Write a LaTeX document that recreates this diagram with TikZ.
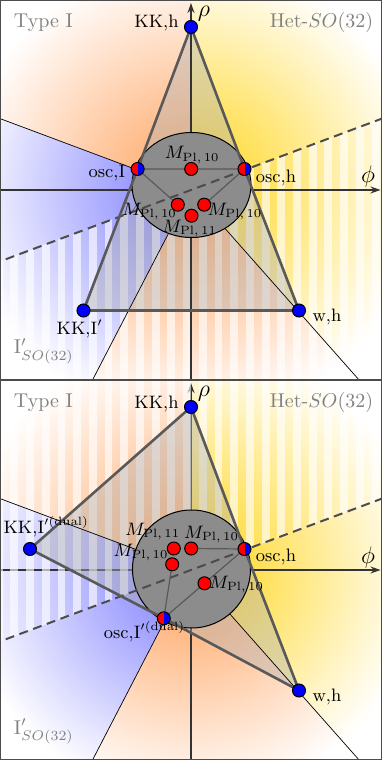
\documentclass[tikz,border=0pt]{standalone}
\usepackage{tikz}
\usetikzlibrary{arrows.meta, calc}
\usepackage{amsmath}

\definecolor{typeIcol}{RGB}{255,160,90}
\definecolor{hetcol}{RGB}{255,212,20}
\definecolor{Ipcol}{RGB}{120,120,255}

\begin{document}
\begin{tikzpicture}[>={Stealth[length=5pt, width=3.5pt]}, x=0.5pt, y=0.5pt,
  dot/.style={circle, draw=black, line width=0.5pt, minimum size=6.5pt, inner sep=0pt},
  kkdot/.style={dot, fill=blue},
  pldot/.style={dot, fill=red},
  oscdot/.style={dot, fill=blue, path picture={\fill[red] (path picture bounding box.south west) rectangle (path picture bounding box.north);}},
  lbl/.style={font=\small, inner sep=0pt},
  region/.style={text=black!50, inner sep=0pt},
  axlbl/.style={font=\large, inner sep=0pt},
  axis/.style={->, line width=0.7pt, black!80},
  wall/.style={line width=0.35pt, black},
  edge/.style={line width=1.3pt, black!65, line join=round},
  inner/.style={line width=0.6pt, black!65},
  selfdual/.style={line width=1pt, black!70, dash pattern=on 4.5pt off 2.8pt},
  blob/.style={fill=black!45, draw=black, line width=0.5pt},
  hull/.style={fill=black!30, opacity=0.42},
  stripes/.style={white, opacity=0.62},
  border/.style={line width=0.6pt, black!70}]
  \useasboundingbox (-191,-380) rectangle (191,380);

  % ---------- upper panel ----------
  \begin{scope}[shift={(0,190)}]
    \coordinate (O1) at (0,0);
    \coordinate (KKh1) at (0,163);
    \coordinate (oscI1) at (-53.4,21);
    \coordinate (osch1) at (53.5,21);
    \coordinate (KKIp1) at (-107.5,-120.5);
    \coordinate (wh1) at (108,-120.5);
    \coordinate (plT1) at (0.2,21);
    \coordinate (plL1) at (-13.2,-14.7);
    \coordinate (plR1) at (13.2,-14.7);
    \coordinate (plB1) at (0.5,-25.7);
    \coordinate (C1) at (0.5,5);
    \coordinate (bUL1) at (159.5:300);
    \coordinate (bLL1) at (242.6:300);
    \coordinate (bLR1) at (311.5:300);
    \coordinate (sdW1) at (200.5:300);
    \coordinate (sdE1) at (20.5:300);
    \coordinate (rhoS1) at (0,-190);
    \coordinate (rhoN1) at (0,187);
    \coordinate (phiW1) at (-190.5,0);
    \coordinate (phiE1) at (189.5,0);

    \begin{scope}
      \clip (-190.5,-190) rectangle (190.5,190);
      % Regions
      \foreach \a/\b/\c in {90/159.5/typeIcol, 159.5/200.5/Ipcol, 200.5/242.6/Ipcol,
                            242.6/311.5/typeIcol, 311.5/380.5/hetcol, 20.5/90/hetcol}{
        \begin{scope}
          \clip (0,0) -- (\a:600) -- (\b:600) -- cycle;
          \shade[inner color=\c, outer color=white] (0,0) circle (230);
        \end{scope}
      }
      % Stripes below the dashed line
      \begin{scope}
        \clip (0,0) -- (200.5:600) -- (242.6:600) -- (311.5:600) -- (380.5:600) -- cycle;
        \foreach \i in {-13,...,12}
          \fill[stripes] ({(\i+0.5)*15.7},-200) rectangle ({(\i+1)*15.7},200);
      \end{scope}
      % Polytope
      \fill[hull] (KKh1) -- (KKIp1) -- (wh1) -- cycle;
      % Boundaries and axes
      \draw[wall] (O1) -- (bUL1) (O1) -- (bLL1) (O1) -- (bLR1);
      \draw[axis] (rhoS1) -- (rhoN1);
      \draw[axis] (phiW1) -- (phiE1);
      \draw[blob] (C1) ellipse [x radius=59.5, y radius=52.5];
      \draw[selfdual] (sdW1) -- (sdE1);
      \draw[edge] (KKh1) -- (oscI1) -- (KKIp1) -- (wh1) -- (osch1) -- cycle;
      \draw[inner] (oscI1) -- (plT1) -- (osch1) (oscI1) -- (plL1) (osch1) -- (plR1);
    \end{scope}

    % Labels
    \node[region, anchor=base west] (tI1) at (-177.5,162.3) {Type I};
    \node[region, anchor=base east] (het1) at (182.5,162.3) {Het-$SO(32)$};
    \node[region, anchor=base west] (Ip1) at (-177.5,-164) {$\mathrm{I}'_{SO(32)}$};
    \node[axlbl, anchor=base] (rho1) at (13,173) {$\rho$};
    \node[axlbl, anchor=base] (phi1) at (177,7) {$\phi$};
    \node[lbl, anchor=base east] (KKh1l) at ($(KKh1)+(-12,-1)$) {KK,h};
    \node[lbl, anchor=base east] (oscI1l) at ($(oscI1)+(-12,-8.7)$) {osc,I};
    \node[lbl, anchor=base west] (osch1l) at ($(osch1)+(11,-13.7)$) {osc,h};
    \node[lbl, anchor=base] (plT1l) at ($(plT1)+(1,10)$) {$M_{\mathrm{Pl},\,10}$};
    \node[lbl, anchor=base east] (plL1l) at ($(plL1)+(-0.6,-11)$) {$M_{\mathrm{Pl},\,10}$};
    \node[lbl, anchor=base west] (plR1l) at ($(plR1)+(3,-11)$) {$M_{\mathrm{Pl},\,10}$};
    \node[lbl, anchor=base] (plB1l) at ($(plB1)+(-2,-16.5)$) {$M_{\mathrm{Pl},\,11}$};
    \node[lbl, anchor=base] (KKIp1l) at ($(KKIp1)+(-3.8,-23.8)$) {KK,I$'$};
    \node[lbl, anchor=base west] (wh1l) at ($(wh1)+(13.2,-11.5)$) {w,h};

    % Points
    \node[kkdot] (KKh1d) at (KKh1) {};
    \node[kkdot] (KKIp1d) at (KKIp1) {};
    \node[kkdot] (wh1d) at (wh1) {};
    \node[oscdot] (oscI1d) at (oscI1) {};
    \node[oscdot] (osch1d) at (osch1) {};
    \node[pldot] (plT1d) at (plT1) {};
    \node[pldot] (plL1d) at (plL1) {};
    \node[pldot] (plR1d) at (plR1) {};
    \node[pldot] (plB1d) at (plB1) {};

    \draw[border] (-190.5,-190) rectangle (190.5,190);
  \end{scope}

  % ---------- lower panel ----------
  \begin{scope}[shift={(0,-190)}]
    \coordinate (O2) at (0,0);
    \coordinate (KKh2) at (0,163);
    \coordinate (KKId2) at (-161,21);
    \coordinate (osch2) at (53.5,21);
    \coordinate (oscId2) at (-27.2,-48.3);
    \coordinate (wh2) at (108,-120.5);
    \coordinate (plT2) at (0.2,21.5);
    \coordinate (plE2) at (-17.2,21.5);
    \coordinate (plL2) at (-18.8,5.7);
    \coordinate (plR2) at (13.5,-13.3);
    \coordinate (C2) at (0.5,1);
    \coordinate (bUL2) at (159.5:300);
    \coordinate (bLL2) at (242.6:300);
    \coordinate (bLR2) at (311.5:300);
    \coordinate (sdW2) at (200.5:300);
    \coordinate (sdE2) at (20.5:300);
    \coordinate (rhoS2) at (0,-190);
    \coordinate (rhoN2) at (0,187);
    \coordinate (phiW2) at (-190.5,0);
    \coordinate (phiE2) at (189.5,0);

    \begin{scope}
      \clip (-190.5,-190) rectangle (190.5,190);
      % Regions
      \foreach \a/\b/\c in {90/159.5/typeIcol, 159.5/200.5/Ipcol, 200.5/242.6/Ipcol,
                            242.6/311.5/typeIcol, 311.5/380.5/hetcol, 20.5/90/hetcol}{
        \begin{scope}
          \clip (0,0) -- (\a:600) -- (\b:600) -- cycle;
          \shade[inner color=\c, outer color=white] (0,0) circle (230);
        \end{scope}
      }
      \draw[axis] (rhoS2) -- (rhoN2);
      \draw[axis] (phiW2) -- (phiE2);
      % Stripes above the dashed line
      \begin{scope}
        \clip (0,0) -- (20.5:600) -- (90:600) -- (159.5:600) -- (200.5:600) -- cycle;
        \foreach \i in {-13,...,12}
          \fill[stripes] ({(\i+0.5)*15.7},-200) rectangle ({(\i+1)*15.7},200);
      \end{scope}
      % Polytope
      \fill[hull] (KKh2) -- (KKId2) -- (oscId2) -- (wh2) -- cycle;
      \draw[wall] (O2) -- (bUL2) (O2) -- (bLL2) (O2) -- (bLR2);
      \draw[blob] (C2) circle (59);
      \draw[selfdual] (sdW2) -- (sdE2);
      \draw[edge] (KKh2) -- (KKId2) -- (oscId2) -- (wh2) -- (osch2) -- cycle;
      \draw[inner] (osch2) -- (plT2) (oscId2) -- (plL2) (oscId2) -- (plR2) -- (osch2);
    \end{scope}

    % Labels
    \node[region, anchor=base west] (tI2) at (-177.5,162.3) {Type I};
    \node[region, anchor=base east] (het2) at (182.5,162.3) {Het-$SO(32)$};
    \node[region, anchor=base west] (Ip2) at (-177.5,-164) {$\mathrm{I}'_{SO(32)}$};
    \node[axlbl, anchor=base] (rho2) at (13,173) {$\rho$};
    \node[axlbl, anchor=base] (phi2) at (177,7) {$\phi$};
    \node[lbl, anchor=base east] (KKh2l) at ($(KKh2)+(-12,-1)$) {KK,h};
    \node[lbl, anchor=base west] (KKId2l) at ($(KKId2)+(-26.8,15.7)$) {KK,I$'^{(\mathrm{dual})}$};
    \node[lbl, anchor=base east] (plE2l) at ($(plE2)+(6.7,13.5)$) {$M_{\mathrm{Pl},\,11}$};
    \node[lbl, anchor=base west] (plT2l) at ($(plT2)+(-7.4,10.2)$) {$M_{\mathrm{Pl},\,10}$};
    \node[lbl, anchor=base east] (plL2l) at ($(plL2)+(-3.4,7.6)$) {$M_{\mathrm{Pl},\,10}$};
    \node[lbl, anchor=base west] (plR2l) at ($(plR2)+(4.3,-5)$) {$M_{\mathrm{Pl},\,10}$};
    \node[lbl, anchor=base] (oscId2l) at ($(oscId2)+(-19.3,-20)$) {osc,I$'^{(\mathrm{dual})}$};
    \node[lbl, anchor=base west] (osch2l) at ($(osch2)+(11,-12.7)$) {osc,h};
    \node[lbl, anchor=base west] (wh2l) at ($(wh2)+(13.2,-10.5)$) {w,h};

    % Points
    \node[kkdot] (KKh2d) at (KKh2) {};
    \node[kkdot] (KKId2d) at (KKId2) {};
    \node[kkdot] (wh2d) at (wh2) {};
    \node[oscdot] (oscId2d) at (oscId2) {};
    \node[oscdot] (osch2d) at (osch2) {};
    \node[pldot] (plT2d) at (plT2) {};
    \node[pldot] (plE2d) at (plE2) {};
    \node[pldot] (plL2d) at (plL2) {};
    \node[pldot] (plR2d) at (plR2) {};

    \draw[border] (-190.5,-190) rectangle (190.5,190);
  \end{scope}
\end{tikzpicture}
\end{document}
